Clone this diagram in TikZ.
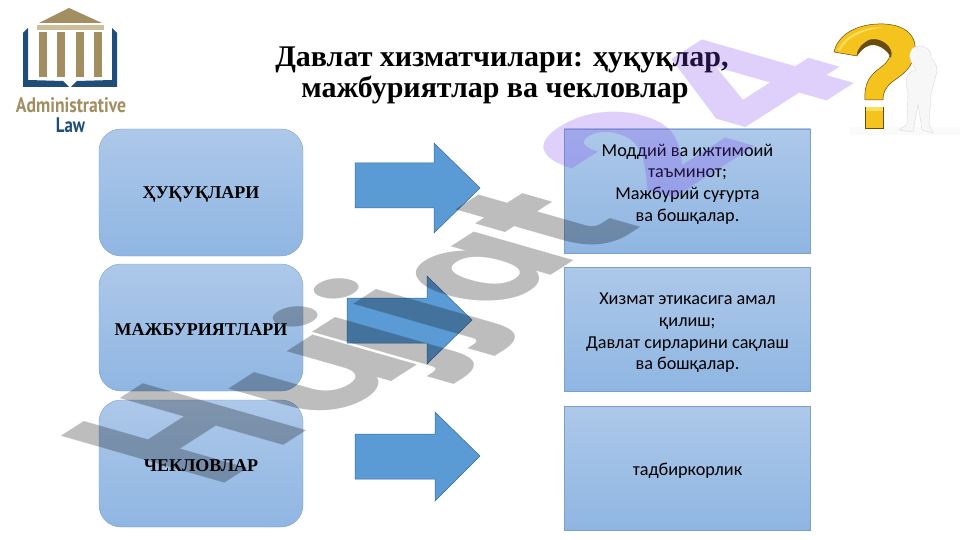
\documentclass[tikz,border=0pt]{standalone}
\usepackage{fontspec}
\setmainfont{Liberation Serif}
\newfontfamily\bodyfont{Carlito}
\newfontfamily\logofont{PT Sans}
\newfontfamily\wmfont{Poppins}
\newfontfamily\wmafont{DejaVu Sans}
\definecolor{boxtop}{RGB}{173,200,233}
\definecolor{boxbot}{RGB}{143,182,226}
\definecolor{boxedge}{RGB}{125,160,205}
\definecolor{arrowfill}{RGB}{91,155,213}
\definecolor{arrowline}{RGB}{60,105,150}
\definecolor{tan}{RGB}{163,142,98}
\definecolor{tanlight}{RGB}{205,190,155}
\definecolor{navy}{RGB}{30,78,120}
\definecolor{gold}{RGB}{245,195,30}
\definecolor{goldlight}{RGB}{252,222,90}
\definecolor{golddark}{RGB}{190,140,15}
\definecolor{goldedge}{RGB}{105,75,10}
\tikzset{
  leftbox/.style={draw=boxedge,line width=.4pt,rounded corners=22pt,top color=boxtop,bottom color=boxbot},
  lefttext/.style={inner sep=0pt,font=\bfseries\fontsize{18}{20}\selectfont,text=black},
  rightbox/.style={draw=boxedge,line width=.4pt,top color=boxtop,bottom color=boxbot},
  righttext/.style={inner sep=0pt,align=center,font=\bodyfont\fontsize{18.2}{21.7}\selectfont,text=black},
  bigarrow/.style={fill=arrowfill,draw=arrowline,line width=.5pt},
  wmbase/.style={transform shape,anchor=base west,inner sep=0pt,font=\wmfont\bfseries\fontsize{100}{100}\selectfont},
  wmcap/.style={shift={(#1)},cm={1.347,.864,-2.33,.668,(0,0)},wmbase},
  wmu/.style={shift={(#1)},cm={1.516,.972,-1.872,.536,(0,0)},wmbase},
  wmlow/.style={shift={(#1)},cm={1.347,.864,-1.872,.536,(0,0)},wmbase},
  wmt/.style={shift={(#1)},cm={1.347,.864,-2.112,.605,(0,0)},wmbase},
  wmdigit/.style={shift={(#1)},cm={1.6,1.026,-2.112,.605,(0,0)},wmbase},
  wmalpha/.style={shift={(#1)},cm={1.305,.837,-1.824,.5225,(0,0)},wmbase,font=\wmafont\bfseries\fontsize{100}{100}\selectfont},
  wmtext/.style={text=black,text opacity=.26},
  wmviolet/.style={text={rgb,255:red,130;green,70;blue,240},text opacity=.25}
}
\begin{document}
\begin{tikzpicture}[x=1pt,y=-1pt]
\useasboundingbox (0,0) rectangle (961,540);
\fill[white] (0,0) rectangle (961,540);
% logo
\fill[tan] (69,8) -- (102,23) -- (39,23) -- cycle;
\fill[tanlight] (37,25) rectangle (104,30);
\foreach \cx in {39,57,76,94}{\fill[tan] (\cx,32) rectangle (\cx+8,77);}
\fill[navy] (23,33) -- (28,28) -- (28,80) -- (63,81) -- (69,87) -- (23,87) -- cycle;
\fill[navy] (117,33) -- (112,28) -- (112,80) -- (77,81) -- (71,87) -- (117,87) -- cycle;
\node[inner sep=0pt,text=tan,font=\logofont\bfseries\fontsize{21}{21}\selectfont] (logoa) at (71,105) {\scalebox{.84}[1]{Administrative}};
\node[inner sep=0pt,text=navy,font=\logofont\bfseries\fontsize{21}{21}\selectfont] (logob) at (70.5,125) {\scalebox{.8}[1]{Law}};
% question mark and figure
\fill[black!2] (850,127) rectangle (960,135);
\draw[goldedge,fill=gold,line width=.5pt] (834,52) .. controls (838,34) and (858,23) .. (884,24) .. controls (906,25) and (917,36) .. (915,52) .. controls (913,68) and (902,75) .. (892,82) .. controls (886,87) and (883,92) .. (883,100) -- (865,100) .. controls (864,86) and (868,76) .. (880,68) .. controls (888,62) and (892,56) .. (890,49) .. controls (886,41) and (873,36) .. (866,42) .. controls (860,46) and (857,51) .. (857,56) -- cycle;
\fill[goldedge] (857,56) .. controls (857,51) and (860,46) .. (866,42) .. controls (873,36) and (886,41) .. (890,49) .. controls (892,52) and (892,55) .. (891,58) .. controls (888,50) and (876,42) .. (868,46) .. controls (863,48) and (860,52) .. (857,56) -- cycle;
\fill[goldlight] (838,50) .. controls (844,36) and (862,27) .. (884,27) .. controls (862,30) and (846,38) .. (840,51) -- cycle;
\draw[goldedge,fill=gold,line width=.5pt] (865,107) rectangle (883,128);
\fill[goldlight] (865.5,107.5) rectangle (882.5,111);
\draw[black!14,fill=black!3,line width=.4pt] (916,70) .. controls (906,72) and (904,80) .. (908,92) -- (907,124) -- (899,130) -- (913,132) -- (918,104) -- (922,130) -- (933,133) -- (929,124) -- (931,95) .. controls (933,85) and (936,76) .. (937,71) .. controls (937,64) and (933,60) .. (931,58) .. controls (932,50) and (926,46) .. (920,46) .. controls (913,46) and (909,50) .. (910,58) .. controls (911,64) and (915,67) .. (916,70) -- cycle;
% title
\node[inner sep=0pt,font=\bfseries\fontsize{30}{31}\selectfont,text=black,align=center] (title) at (502,75.5) {Давлат хизматчилари: ҳуқуқлар,\\ \hspace*{-14pt}мажбуриятлар ва чекловлар};
% boxes
\path[leftbox] (99,129) rectangle (303,256);
\path[leftbox] (99,264) rectangle (303,391);
\path[leftbox] (99,400) rectangle (303,527);
\node[lefttext] (b1) at (201,194.5) {ҲУҚУҚЛАРИ};
\node[lefttext] (b2) at (201,329.5) {МАЖБУРИЯТЛАРИ};
\node[lefttext] (b3) at (201,465.5) {ЧЕКЛОВЛАР};
\path[rightbox] (564,129) rectangle (810.5,253);
\path[rightbox] (564,267) rectangle (810.5,391);
\path[rightbox] (564,406) rectangle (810.5,530);
\node[righttext] (r1) at (687.5,184) {Моддий ва ижтимоий\\таъминот;\\Мажбурий суғурта\\ва бошқалар.};
\node[righttext] (r2) at (687.5,333) {Хизмат этикасига амал\\қилиш;\\Давлат сирларини сақлаш\\ва бошқалар.};
\node[righttext] (r3) at (687.5,470.5) {тадбиркорлик};
% arrows
\draw[bigarrow] (355,163) -- (434,163) -- (434,143) -- (480,188) -- (434,233) -- (434,208) -- (355,208) -- cycle;
\draw[bigarrow] (347,298) -- (427,298) -- (427,276) -- (472,320) -- (427,364) -- (427,343) -- (347,343) -- cycle;
\draw[bigarrow] (355,434) -- (435,434) -- (435,412) -- (480,456) -- (435,501) -- (435,479) -- (355,479) -- cycle;
% watermark
\node[wmcap={216,489},wmtext] (wh) {H};
\node[wmu={324,425},wmtext] (wu) {u};
\node[wmlow={408,368},wmtext] (wj) {j};
\node[wmlow={449,340},wmtext] (wk) {j};
\node[wmalpha={491,314},wmtext] (wa) {ɑ};
\node[wmt={590,260},wmtext] (wt) {t};
\node[wmdigit={670,203},wmviolet] (w2) {2};
\node[wmdigit={765,141},wmviolet] (w4) {4};
\end{tikzpicture}
\end{document}
